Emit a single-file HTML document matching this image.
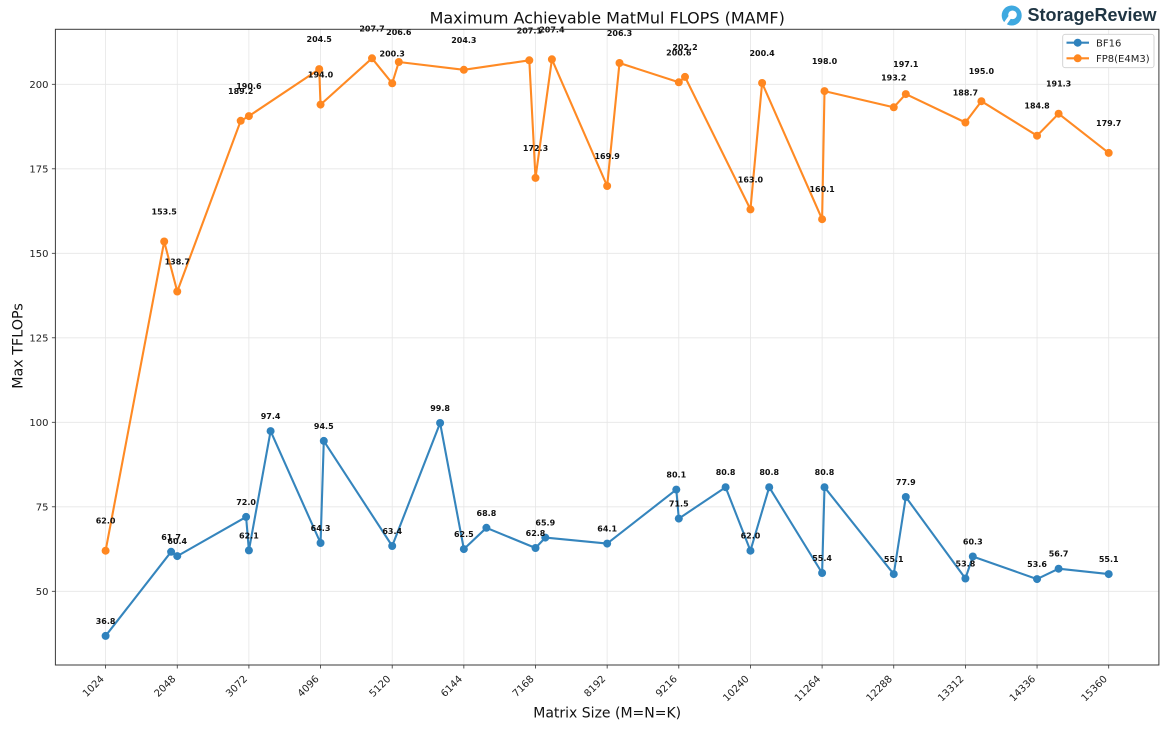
<!DOCTYPE html>
<html>
<head>
<meta charset="utf-8">
<style>
html,body{margin:0;padding:0;background:#fff;}
svg{display:block;}
text{font-family:"DejaVu Sans","Liberation Sans",sans-serif;}
.tk{font-size:10px;fill:#222;}
.an{font-size:8px;font-weight:bold;fill:#111;text-anchor:middle;}
</style>
</head>
<body>
<svg width="1170" height="731" viewBox="0 0 1170 731" xmlns="http://www.w3.org/2000/svg">
<rect x="0" y="0" width="1170" height="731" fill="#fff"/>
<!-- grid -->
<g stroke="#e6e6e6" stroke-width="0.8">
<line x1="105.6" y1="29.3" x2="105.6" y2="665"/>
<line x1="177.25" y1="29.3" x2="177.25" y2="665"/>
<line x1="248.9" y1="29.3" x2="248.9" y2="665"/>
<line x1="320.55" y1="29.3" x2="320.55" y2="665"/>
<line x1="392.2" y1="29.3" x2="392.2" y2="665"/>
<line x1="463.85" y1="29.3" x2="463.85" y2="665"/>
<line x1="535.5" y1="29.3" x2="535.5" y2="665"/>
<line x1="607.15" y1="29.3" x2="607.15" y2="665"/>
<line x1="678.8" y1="29.3" x2="678.8" y2="665"/>
<line x1="750.45" y1="29.3" x2="750.45" y2="665"/>
<line x1="822.1" y1="29.3" x2="822.1" y2="665"/>
<line x1="893.75" y1="29.3" x2="893.75" y2="665"/>
<line x1="965.4" y1="29.3" x2="965.4" y2="665"/>
<line x1="1037.05" y1="29.3" x2="1037.05" y2="665"/>
<line x1="1108.7" y1="29.3" x2="1108.7" y2="665"/>
<line x1="55.4" y1="591.3" x2="1158.9" y2="591.3"/>
<line x1="55.4" y1="506.8" x2="1158.9" y2="506.8"/>
<line x1="55.4" y1="422.3" x2="1158.9" y2="422.3"/>
<line x1="55.4" y1="337.8" x2="1158.9" y2="337.8"/>
<line x1="55.4" y1="253.3" x2="1158.9" y2="253.3"/>
<line x1="55.4" y1="168.8" x2="1158.9" y2="168.8"/>
<line x1="55.4" y1="84.3" x2="1158.9" y2="84.3"/>
</g>

<!-- BF16 -->
<g>
<polyline fill="none" stroke="#3585bd" stroke-width="2.1" stroke-linejoin="round" points="105.6,635.9 171.1,551.8 177.25,556.1 246.1,516.9 248.9,550.4 270.6,431.1 320.55,543.0 323.8,440.9 392.2,546.0 440.1,423.0 463.85,549.1 486.4,527.8 535.5,548.0 545.3,537.6 607.15,543.6 676.3,489.6 678.8,518.6 725.6,487.2 750.45,550.7 769.2,487.2 822.1,573.0 824.5,487.2 893.75,574.1 905.8,497.0 965.4,578.5 972.8,556.5 1037.05,579.1 1058.6,568.7 1108.7,574.1"/>
<g fill="#2f82bd">
<circle cx="105.6" cy="635.9" r="4"/><circle cx="171.1" cy="551.8" r="4"/><circle cx="177.25" cy="556.1" r="4"/><circle cx="246.1" cy="516.9" r="4"/><circle cx="248.9" cy="550.4" r="4"/><circle cx="270.6" cy="431.1" r="4"/><circle cx="320.55" cy="543.0" r="4"/><circle cx="323.8" cy="440.9" r="4"/><circle cx="392.2" cy="546.0" r="4"/><circle cx="440.1" cy="423.0" r="4"/><circle cx="463.85" cy="549.1" r="4"/><circle cx="486.4" cy="527.8" r="4"/><circle cx="535.5" cy="548.0" r="4"/><circle cx="545.3" cy="537.6" r="4"/><circle cx="607.15" cy="543.6" r="4"/><circle cx="676.3" cy="489.6" r="4"/><circle cx="678.8" cy="518.6" r="4"/><circle cx="725.6" cy="487.2" r="4"/><circle cx="750.45" cy="550.7" r="4"/><circle cx="769.2" cy="487.2" r="4"/><circle cx="822.1" cy="573.0" r="4"/><circle cx="824.5" cy="487.2" r="4"/><circle cx="893.75" cy="574.1" r="4"/><circle cx="905.8" cy="497.0" r="4"/><circle cx="965.4" cy="578.5" r="4"/><circle cx="972.8" cy="556.5" r="4"/><circle cx="1037.05" cy="579.1" r="4"/><circle cx="1058.6" cy="568.7" r="4"/><circle cx="1108.7" cy="574.1" r="4"/>
</g>
</g>

<!-- FP8 -->
<g>
<polyline fill="none" stroke="#ff8a24" stroke-width="2.1" stroke-linejoin="round" points="105.6,550.7 164.2,241.5 177.25,291.5 240.7,120.8 248.9,116.1 319.2,69.1 320.55,104.6 372.0,58.3 392.2,83.3 398.8,62.0 463.85,69.8 529.3,60.3 535.5,177.9 551.9,59.3 607.15,186.0 619.5,63.0 678.8,82.3 685.0,76.9 750.45,209.4 762.1,83.0 822.1,219.2 824.5,91.1 893.75,107.3 905.8,94.1 965.4,122.5 981.4,101.2 1037.05,135.7 1058.6,113.7 1108.7,152.9"/>
<g fill="#ff8720">
<circle cx="105.6" cy="550.7" r="4"/><circle cx="164.2" cy="241.5" r="4"/><circle cx="177.25" cy="291.5" r="4"/><circle cx="240.7" cy="120.8" r="4"/><circle cx="248.9" cy="116.1" r="4"/><circle cx="319.2" cy="69.1" r="4"/><circle cx="320.55" cy="104.6" r="4"/><circle cx="372.0" cy="58.3" r="4"/><circle cx="392.2" cy="83.3" r="4"/><circle cx="398.8" cy="62.0" r="4"/><circle cx="463.85" cy="69.8" r="4"/><circle cx="529.3" cy="60.3" r="4"/><circle cx="535.5" cy="177.9" r="4"/><circle cx="551.9" cy="59.3" r="4"/><circle cx="607.15" cy="186.0" r="4"/><circle cx="619.5" cy="63.0" r="4"/><circle cx="678.8" cy="82.3" r="4"/><circle cx="685.0" cy="76.9" r="4"/><circle cx="750.45" cy="209.4" r="4"/><circle cx="762.1" cy="83.0" r="4"/><circle cx="822.1" cy="219.2" r="4"/><circle cx="824.5" cy="91.1" r="4"/><circle cx="893.75" cy="107.3" r="4"/><circle cx="905.8" cy="94.1" r="4"/><circle cx="965.4" cy="122.5" r="4"/><circle cx="981.4" cy="101.2" r="4"/><circle cx="1037.05" cy="135.7" r="4"/><circle cx="1058.6" cy="113.7" r="4"/><circle cx="1108.7" cy="152.9" r="4"/>
</g>
</g>

<!-- BF16 annotations -->
<g class="an">
<text class="an" x="105.6" y="623.9">36.8</text>
<text class="an" x="171.1" y="539.8">61.7</text>
<text class="an" x="177.25" y="544.1">60.4</text>
<text class="an" x="246.1" y="504.9">72.0</text>
<text class="an" x="248.9" y="538.4">62.1</text>
<text class="an" x="270.6" y="419.1">97.4</text>
<text class="an" x="320.55" y="531.0">64.3</text>
<text class="an" x="323.8" y="428.9">94.5</text>
<text class="an" x="392.2" y="534.0">63.4</text>
<text class="an" x="440.1" y="411.0">99.8</text>
<text class="an" x="463.85" y="537.1">62.5</text>
<text class="an" x="486.4" y="515.8">68.8</text>
<text class="an" x="535.5" y="536.0">62.8</text>
<text class="an" x="545.3" y="525.6">65.9</text>
<text class="an" x="607.15" y="531.6">64.1</text>
<text class="an" x="676.3" y="477.6">80.1</text>
<text class="an" x="678.8" y="506.6">71.5</text>
<text class="an" x="725.6" y="475.2">80.8</text>
<text class="an" x="750.45" y="538.7">62.0</text>
<text class="an" x="769.2" y="475.2">80.8</text>
<text class="an" x="822.1" y="561.0">55.4</text>
<text class="an" x="824.5" y="475.2">80.8</text>
<text class="an" x="893.75" y="562.1">55.1</text>
<text class="an" x="905.8" y="485.0">77.9</text>
<text class="an" x="965.4" y="566.5">53.8</text>
<text class="an" x="972.8" y="544.5">60.3</text>
<text class="an" x="1037.05" y="567.1">53.6</text>
<text class="an" x="1058.6" y="556.7">56.7</text>
<text class="an" x="1108.7" y="562.1">55.1</text>
</g>

<!-- FP8 annotations -->
<g>
<text class="an" x="105.6" y="523.7">62.0</text>
<text class="an" x="164.2" y="214.5">153.5</text>
<text class="an" x="177.25" y="264.5">138.7</text>
<text class="an" x="240.7" y="93.8">189.2</text>
<text class="an" x="248.9" y="89.1">190.6</text>
<text class="an" x="319.2" y="42.1">204.5</text>
<text class="an" x="320.55" y="77.6">194.0</text>
<text class="an" x="372.0" y="31.3">207.7</text>
<text class="an" x="392.2" y="56.3">200.3</text>
<text class="an" x="398.8" y="35.0">206.6</text>
<text class="an" x="463.85" y="42.8">204.3</text>
<text class="an" x="529.3" y="33.3">207.1</text>
<text class="an" x="535.5" y="150.9">172.3</text>
<text class="an" x="551.9" y="32.3">207.4</text>
<text class="an" x="607.15" y="159.0">169.9</text>
<text class="an" x="619.5" y="36.0">206.3</text>
<text class="an" x="678.8" y="55.3">200.6</text>
<text class="an" x="685.0" y="49.9">202.2</text>
<text class="an" x="750.45" y="182.4">163.0</text>
<text class="an" x="762.1" y="56.0">200.4</text>
<text class="an" x="822.1" y="192.2">160.1</text>
<text class="an" x="824.5" y="64.1">198.0</text>
<text class="an" x="893.75" y="80.3">193.2</text>
<text class="an" x="905.8" y="67.1">197.1</text>
<text class="an" x="965.4" y="95.5">188.7</text>
<text class="an" x="981.4" y="74.2">195.0</text>
<text class="an" x="1037.05" y="108.7">184.8</text>
<text class="an" x="1058.6" y="86.7">191.3</text>
<text class="an" x="1108.7" y="125.9">179.7</text>
</g>

<!-- spines -->
<rect x="55.4" y="29.3" width="1103.5" height="635.7" fill="none" stroke="#3a3a3a" stroke-width="1"/>

<!-- y ticks -->
<g stroke="#333" stroke-width="0.8">
<line x1="51.9" y1="591.3" x2="55.4" y2="591.3"/>
<line x1="51.9" y1="506.8" x2="55.4" y2="506.8"/>
<line x1="51.9" y1="422.3" x2="55.4" y2="422.3"/>
<line x1="51.9" y1="337.8" x2="55.4" y2="337.8"/>
<line x1="51.9" y1="253.3" x2="55.4" y2="253.3"/>
<line x1="51.9" y1="168.8" x2="55.4" y2="168.8"/>
<line x1="51.9" y1="84.3" x2="55.4" y2="84.3"/>
</g>
<g class="tk" text-anchor="end">
<text class="tk" x="48.5" y="594.9">50</text>
<text class="tk" x="48.5" y="510.4">75</text>
<text class="tk" x="48.5" y="425.9">100</text>
<text class="tk" x="48.5" y="341.4">125</text>
<text class="tk" x="48.5" y="256.9">150</text>
<text class="tk" x="48.5" y="172.4">175</text>
<text class="tk" x="48.5" y="87.9">200</text>
</g>

<!-- x ticks -->
<g stroke="#333" stroke-width="0.8">
<line x1="105.6" y1="665" x2="105.6" y2="668.5"/>
<line x1="177.25" y1="665" x2="177.25" y2="668.5"/>
<line x1="248.9" y1="665" x2="248.9" y2="668.5"/>
<line x1="320.55" y1="665" x2="320.55" y2="668.5"/>
<line x1="392.2" y1="665" x2="392.2" y2="668.5"/>
<line x1="463.85" y1="665" x2="463.85" y2="668.5"/>
<line x1="535.5" y1="665" x2="535.5" y2="668.5"/>
<line x1="607.15" y1="665" x2="607.15" y2="668.5"/>
<line x1="678.8" y1="665" x2="678.8" y2="668.5"/>
<line x1="750.45" y1="665" x2="750.45" y2="668.5"/>
<line x1="822.1" y1="665" x2="822.1" y2="668.5"/>
<line x1="893.75" y1="665" x2="893.75" y2="668.5"/>
<line x1="965.4" y1="665" x2="965.4" y2="668.5"/>
<line x1="1037.05" y1="665" x2="1037.05" y2="668.5"/>
<line x1="1108.7" y1="665" x2="1108.7" y2="668.5"/>
</g>
<g class="tk" text-anchor="end">
<text class="tk" text-anchor="end" transform="translate(104.6,679.5) rotate(-45)">1024</text>
<text class="tk" text-anchor="end" transform="translate(176.25,679.5) rotate(-45)">2048</text>
<text class="tk" text-anchor="end" transform="translate(247.9,679.5) rotate(-45)">3072</text>
<text class="tk" text-anchor="end" transform="translate(319.55,679.5) rotate(-45)">4096</text>
<text class="tk" text-anchor="end" transform="translate(391.2,679.5) rotate(-45)">5120</text>
<text class="tk" text-anchor="end" transform="translate(462.85,679.5) rotate(-45)">6144</text>
<text class="tk" text-anchor="end" transform="translate(534.5,679.5) rotate(-45)">7168</text>
<text class="tk" text-anchor="end" transform="translate(606.15,679.5) rotate(-45)">8192</text>
<text class="tk" text-anchor="end" transform="translate(677.8,679.5) rotate(-45)">9216</text>
<text class="tk" text-anchor="end" transform="translate(749.45,679.5) rotate(-45)">10240</text>
<text class="tk" text-anchor="end" transform="translate(821.1,679.5) rotate(-45)">11264</text>
<text class="tk" text-anchor="end" transform="translate(892.75,679.5) rotate(-45)">12288</text>
<text class="tk" text-anchor="end" transform="translate(964.4,679.5) rotate(-45)">13312</text>
<text class="tk" text-anchor="end" transform="translate(1036.05,679.5) rotate(-45)">14336</text>
<text class="tk" text-anchor="end" transform="translate(1107.7,679.5) rotate(-45)">15360</text>
</g>

<!-- axis labels & title -->
<text x="607.2" y="717.5" text-anchor="middle" style="font-size:14px;fill:#111;">Matrix Size (M=N=K)</text>
<text transform="translate(22.5,346) rotate(-90)" text-anchor="middle" style="font-size:14.3px;fill:#111;">Max TFLOPs</text>
<text x="607.2" y="23.3" text-anchor="middle" style="font-size:16px;fill:#111;">Maximum Achievable MatMul FLOPS (MAMF)</text>

<!-- legend -->
<rect x="1062.7" y="34.3" width="91.3" height="33.4" rx="2.5" ry="2.5" fill="#fff" fill-opacity="0.85" stroke="#cfcfcf" stroke-width="0.9"/>
<line x1="1066.5" y1="42.7" x2="1089" y2="42.7" stroke="#3585bd" stroke-width="2.1"/>
<circle cx="1077.7" cy="42.7" r="4" fill="#2f82bd"/>
<text x="1096" y="46.3" style="font-size:10px;fill:#222;">BF16</text>
<line x1="1066.5" y1="58.3" x2="1089" y2="58.3" stroke="#ff8a24" stroke-width="2.1"/>
<circle cx="1077.7" cy="58.3" r="4" fill="#ff8720"/>
<text x="1096" y="61.9" style="font-size:10px;fill:#222;">FP8(E4M3)</text>

<!-- logo -->
<g>
<circle cx="1011.7" cy="15.5" r="10" fill="#3fa9e0"/>
<circle cx="1012.5" cy="14.8" r="4.3" fill="#fff"/>
<path d="M1008.5,16 L1003.2,23.5 L1006.5,24.8 L1011,18.5 Z" fill="#fff"/>
<text x="1027.5" y="20.8" textLength="129" lengthAdjust="spacingAndGlyphs" style="font-family:'Liberation Sans',sans-serif;font-size:18.5px;font-weight:bold;fill:#1f3543;">StorageReview</text>
</g>
</svg>
</body>
</html>
